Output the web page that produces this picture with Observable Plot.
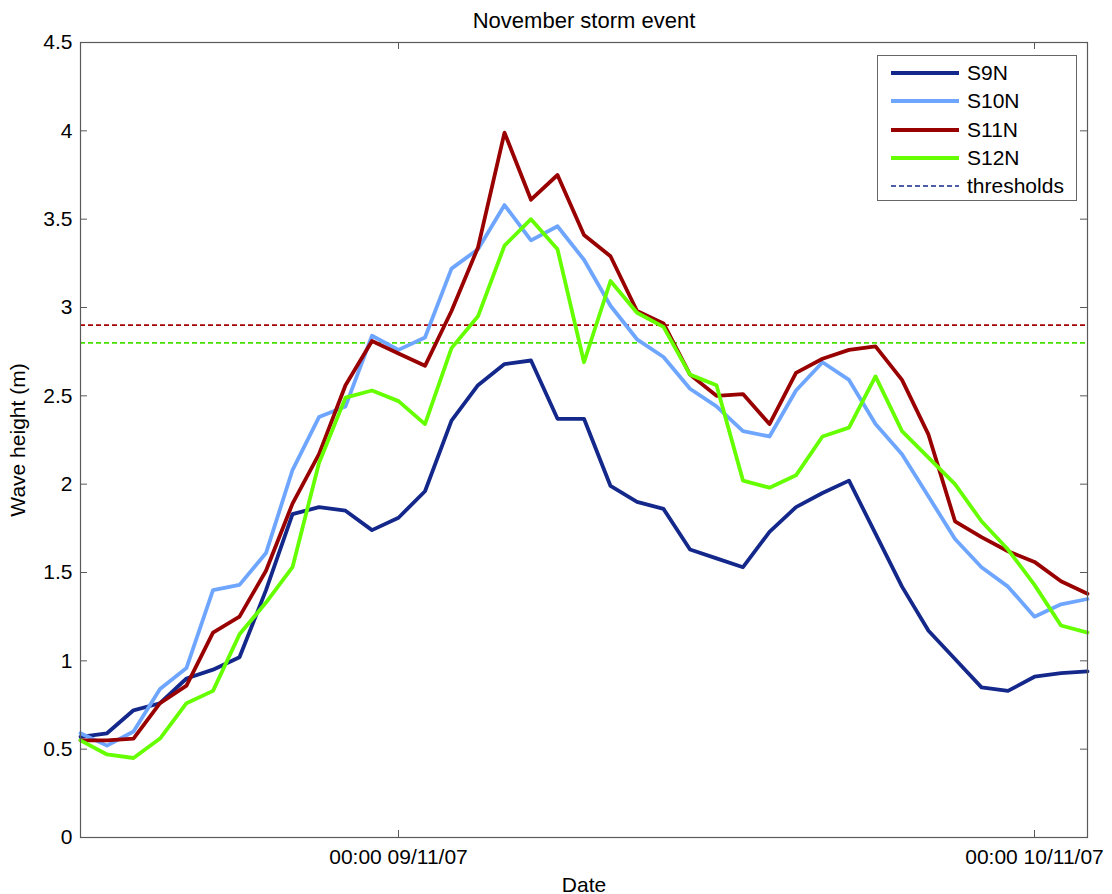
<!DOCTYPE html>
<html><head><meta charset="utf-8">
<script src="https://cdn.jsdelivr.net/npm/d3@7"></script>
<script src="https://cdn.jsdelivr.net/npm/@observablehq/plot@0.6"></script>
<style>
body{margin:0;background:#fff;font-family:"Liberation Sans",Arial,sans-serif;}
#wrap{position:relative;width:1112px;height:894px;overflow:hidden;}
#legend{position:absolute;left:877px;top:55px;width:200px;height:146px;border:1px solid #666;background:#fff;box-sizing:border-box;}
.row{position:absolute;left:0;height:28px;display:flex;align-items:center;font-size:21px;color:#000;}
.row svg{margin-left:13px;margin-right:8px;}
</style></head><body><div id="wrap"></div>
<script>
const times = [
 "2007-11-08T12:00Z","2007-11-08T13:00Z","2007-11-08T14:00Z","2007-11-08T15:00Z","2007-11-08T16:00Z","2007-11-08T17:00Z",
 "2007-11-08T18:00Z","2007-11-08T19:00Z","2007-11-08T20:00Z","2007-11-08T21:00Z","2007-11-08T22:00Z","2007-11-08T23:00Z",
 "2007-11-09T00:00Z","2007-11-09T01:00Z","2007-11-09T02:00Z","2007-11-09T03:00Z","2007-11-09T04:00Z","2007-11-09T05:00Z",
 "2007-11-09T06:00Z","2007-11-09T07:00Z","2007-11-09T08:00Z","2007-11-09T09:00Z","2007-11-09T10:00Z","2007-11-09T11:00Z",
 "2007-11-09T12:00Z","2007-11-09T13:00Z","2007-11-09T14:00Z","2007-11-09T15:00Z","2007-11-09T16:00Z","2007-11-09T17:00Z",
 "2007-11-09T18:00Z","2007-11-09T19:00Z","2007-11-09T20:00Z","2007-11-09T21:00Z","2007-11-09T22:00Z","2007-11-09T23:00Z",
 "2007-11-10T00:00Z","2007-11-10T01:00Z","2007-11-10T02:00Z"];
const S9N  = [0.57,0.59,0.72,0.76,0.90,0.95,1.02,1.40,1.83,1.87,1.85,1.74,1.81,1.96,2.36,2.56,2.68,2.70,2.37,2.37,1.99,1.90,1.86,1.63,1.58,1.53,1.73,1.87,1.95,2.02,1.72,1.42,1.17,1.01,0.85,0.83,0.91,0.93,0.94];
const S10N = [0.59,0.52,0.60,0.84,0.96,1.40,1.43,1.61,2.08,2.38,2.44,2.84,2.76,2.83,3.22,3.33,3.58,3.38,3.46,3.27,3.01,2.82,2.72,2.54,2.44,2.30,2.27,2.53,2.69,2.59,2.34,2.17,1.93,1.69,1.53,1.42,1.25,1.32,1.35];
const S11N = [0.55,0.55,0.56,0.76,0.86,1.16,1.25,1.51,1.89,2.17,2.56,2.81,2.74,2.67,2.98,3.34,3.99,3.61,3.75,3.41,3.29,2.98,2.91,2.62,2.50,2.51,2.34,2.63,2.71,2.76,2.78,2.59,2.28,1.79,1.70,1.62,1.56,1.45,1.38];
const S12N = [0.55,0.47,0.45,0.56,0.76,0.83,1.15,1.33,1.53,2.12,2.49,2.53,2.47,2.34,2.77,2.95,3.35,3.50,3.33,2.69,3.15,2.97,2.89,2.62,2.56,2.02,1.98,2.05,2.27,2.32,2.61,2.30,2.15,2.00,1.79,1.63,1.43,1.20,1.16];
const stations = ["S9N","S10N","S11N","S12N"];
const colors = ["#13288a","#6ea6ff","#990000","#66ff00"];
const thresholdValues = [2.9, 2.8];
const thresholdColors = ["#a80000","#44e000"];
const xTickTimes = ["2007-11-09T00:00Z","2007-11-10T00:00Z"];
const yTicks = [0,0.5,1,1.5,2,2.5,3,3.5,4,4.5];

const parse = d3.utcParse("%Y-%m-%dT%H:%MZ");
const fmt = d3.utcFormat("%H:%M %d/%m/%y");
const series = [S9N,S10N,S11N,S12N];
const rows = stations.flatMap((s,k)=>times.map((t,i)=>({station:s,time:parse(t),h:series[k][i]})));
const thresholds = thresholdValues.map((v,i)=>({value:v,color:thresholdColors[i]}));
const xTicks = xTickTimes.map(parse);
const axisColor = "#5a5a5a";
const W = 1112, H = 894, mL = 80, mR = 25, mT = 42, mB = 57;
const fw = W-mL-mR, fh = H-mT-mB, tl = 7;

const chart = Plot.plot({
  width: W, height: H, marginLeft: mL, marginRight: mR, marginTop: mT, marginBottom: mB,
  style: {fontFamily: '"Liberation Sans",Arial,sans-serif', fontSize: "21px", color: "#000", background: "#fff"},
  x: {type: "utc", domain: [parse(times[0]), parse(times[times.length-1])]},
  y: {domain: [0, 4.5]},
  color: {domain: stations, range: colors},
  marks: [
    Plot.ruleY(thresholds, {y: "value", stroke: "color", strokeWidth: 1.6, strokeDasharray: "5,3"}),
    Plot.line(rows, {x: "time", y: "h", z: "station", stroke: "station", strokeWidth: 3.8}),
    Plot.frame({stroke: axisColor, strokeWidth: 1.2}),
    Plot.tickY(yTicks, {y: d=>d, insetRight: fw-tl, stroke: axisColor}),
    Plot.tickY(yTicks, {y: d=>d, insetLeft: fw-tl, stroke: axisColor}),
    Plot.tickX(xTicks, {x: d=>d, insetTop: fh-tl, stroke: axisColor}),
    Plot.tickX(xTicks, {x: d=>d, insetBottom: fh-tl, stroke: axisColor}),
    Plot.axisY(yTicks, {tickSize: 0, tickPadding: 8, tickFormat: d=>String(d), label: "Wave height (m)", labelAnchor: "center", labelArrow: "none", labelOffset: 70}),
    Plot.axisX(xTicks, {tickSize: 0, tickPadding: 12, tickFormat: fmt, label: "Date", labelAnchor: "center", labelArrow: "none", labelOffset: 54}),
    Plot.text(["November storm event"], {text: d=>d, frameAnchor: "top", dy: -30, fontSize: 22})
  ]
});
const wrap = document.getElementById("wrap");
wrap.appendChild(chart);

const legend = document.createElement("div");
legend.id = "legend";
const entries = stations.map((s,i)=>({label:s,color:colors[i],dash:null,w:4}))
  .concat([{label:"thresholds",color:"#13288a",dash:"5,3",w:1.6}]);
entries.forEach((e,i)=>{
  const r = document.createElement("div");
  r.className = "row";
  r.style.top = (3 + i*28.3) + "px";
  r.innerHTML = `<svg width="68" height="10"><line x1="0" x2="68" y1="5" y2="5" stroke="${e.color}" stroke-width="${e.w}" ${e.dash?`stroke-dasharray="${e.dash}"`:""}/></svg><span>${e.label}</span>`;
  legend.appendChild(r);
});
wrap.appendChild(legend);
</script></body></html>
